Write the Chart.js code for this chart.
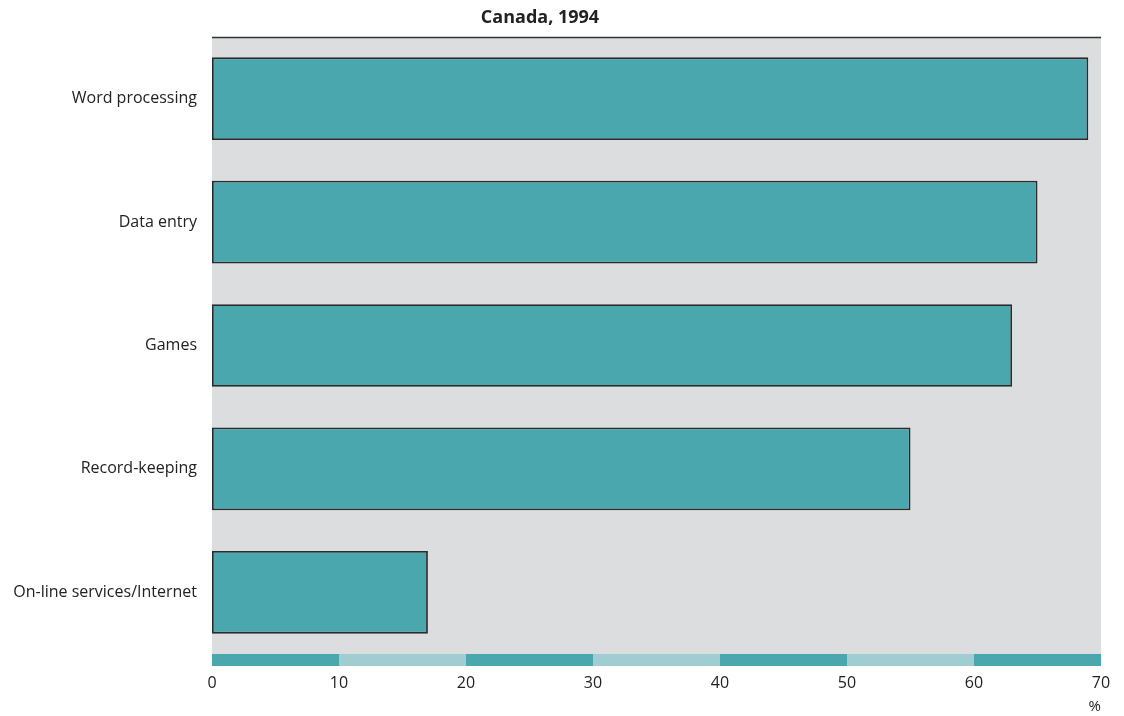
<!DOCTYPE html>
<html>
<head>
<meta charset="utf-8">
<script src="https://cdn.jsdelivr.net/npm/chart.js@4/dist/chart.umd.min.js"></script>
<style>
  html, body { margin:0; padding:0; background:#fff; }
  #wrap { position:relative; width:1124px; height:716px; }
  #title { position:absolute; left:390px; width:300px; top:4px; text-align:center; font:bold 18px "Open Sans", "Liberation Sans", sans-serif; color:#222; }
</style>
</head>
<body>
<div id="wrap">
  <canvas id="c" width="1124" height="716"></canvas>
  <div id="title">Canada, 1994</div>
</div>
<script>
const categories = ["Word processing", "Data entry", "Games", "Record-keeping", "On-line services/Internet"];
const values = [69, 65, 63, 55, 17];
const xTicks = [0, 10, 20, 30, 40, 50, 60, 70];

const FONT = '"Open Sans", "Liberation Sans", sans-serif';
const TEAL = "#49a7ad", PALE = "#9fcdd1", BG = "#dcdddf";

// gray panel, top rule and the banded axis strip
const panel = {
  id: "panel",
  beforeDatasetsDraw(chart) {
    const { ctx, chartArea: a, scales: { x } } = chart;
    ctx.save();
    ctx.fillStyle = BG;
    ctx.fillRect(a.left, a.top, a.right - a.left, a.bottom - a.top);
    ctx.strokeStyle = "#333";
    ctx.lineWidth = 1.5;
    ctx.beginPath(); ctx.moveTo(a.left, a.top + 0.5); ctx.lineTo(a.right, a.top + 0.5); ctx.stroke();
    for (let i = 0; i < xTicks.length - 1; i++) {
      const x0 = x.getPixelForValue(xTicks[i]), x1 = x.getPixelForValue(xTicks[i + 1]);
      ctx.fillStyle = i % 2 ? PALE : TEAL;
      ctx.fillRect(x0, a.bottom, x1 - x0, 12);
    }
    ctx.restore();
  }
};

new Chart(document.getElementById("c"), {
  type: "bar",
  data: {
    labels: categories,
    datasets: [{
      data: values,
      backgroundColor: TEAL,
      borderColor: "#2b2b2b",
      borderWidth: 1.8,
      borderSkipped: false,
      barPercentage: 0.67,
      categoryPercentage: 1
    }]
  },
  options: {
    indexAxis: "y",
    responsive: false,
    animation: false,
    layout: { padding: { top: 37, right: 23, left: 0, bottom: 0 } },
    plugins: { legend: { display: false }, tooltip: { enabled: false } },
    scales: {
      x: {
        min: 0, max: 70,
        afterBuildTicks: (s) => { s.ticks = xTicks.map(v => ({ value: v })); },
        grid: { display: false, drawTicks: false },
        border: { display: false },
        ticks: { padding: 20, color: "#222", font: { family: FONT, size: 16 } },
        title: { display: true, text: "%", align: "end", color: "#222", font: { family: FONT, size: 15 }, padding: { top: 0, bottom: 0 } },
        afterFit: (s) => { s.height = 62; s.paddingLeft = 0; s.paddingRight = 0; }
      },
      y: {
        grid: { display: false, drawTicks: false },
        border: { display: false },
        ticks: { padding: 15, color: "#222", font: { family: FONT, size: 16 } },
        afterFit: (s) => { s.width = 212; s.paddingTop = 0; s.paddingBottom = 0; }
      }
    }
  },
  plugins: [panel]
});
</script>
</body>
</html>
